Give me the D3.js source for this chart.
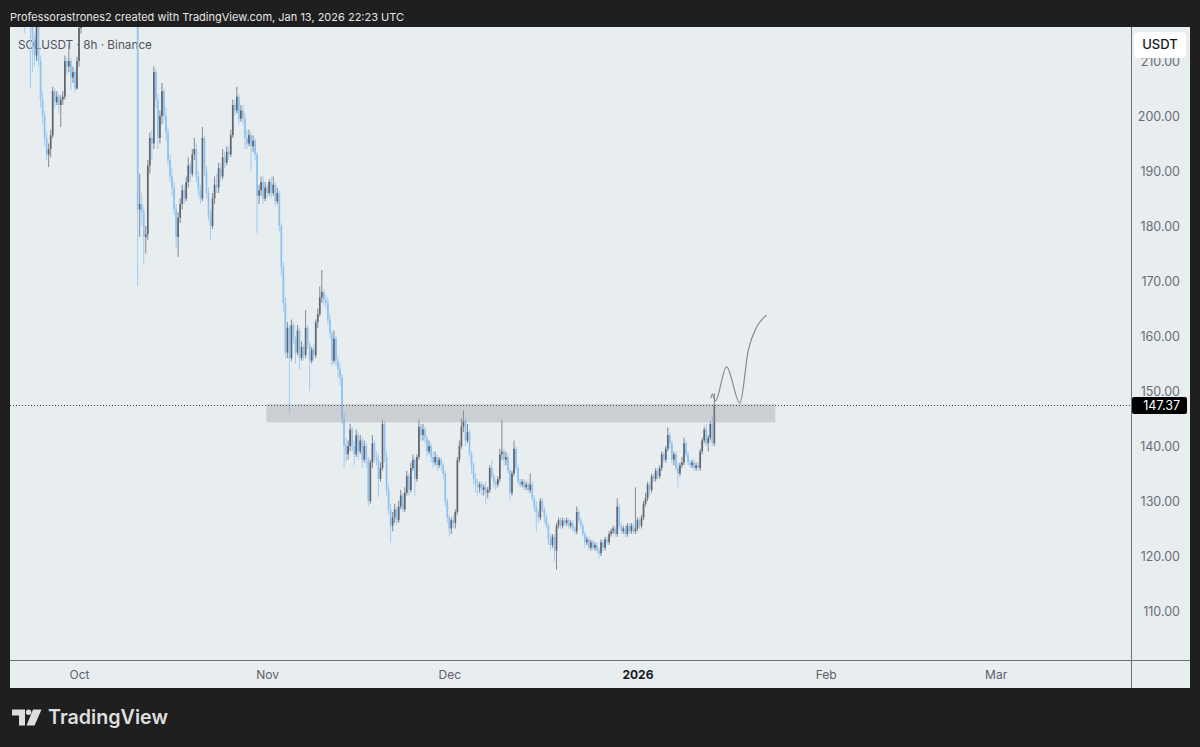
<!DOCTYPE html>
<html><head><meta charset="utf-8">
<script src="https://cdn.jsdelivr.net/npm/d3@7"></script>
<style>
html,body{margin:0;padding:0;background:#1f1f1f;}
svg{display:block;}
text{font-family:Inter,"Noto Sans",Roboto,sans-serif;}
</style></head><body>
<svg id="c" width="1200" height="747"></svg>
<script>
// ---------------- data ----------------
const headerText = "Professorastrones2 created with TradingView.com, Jan 13, 2026 22:23 UTC";
const legendText = "SOLUSDT · 8h · Binance";
const brandText = "TradingView";
const currencyText = "USDT";
const startTime = "2025-09-22T00:00:00Z"; // first 8h bar
const barHours = 8;
const firstOpen = 236;
// 8h closes, three per day, Sep 22 2025 -> Jan 13 2026
const closes = [
224,222,220, 217,214,211, 217,210,203, 200,196,193, 194,196.5,204.5, 202.5,203.5,202, 203,203.5,210, 209,210,207, 208,205,210,
216,220,222, 226,229,232, 234,230,233, 229,227,228, 231,234,232, 235,236,232, 228,223,221, 224,226,224, 222,219,221, 222,217,183,
184,182.5,178, 178.5,191,196, 195,208,203, 196,200,204.5, 200,197,192, 189,187,183, 178,181.5,184, 186.5,185,188, 191,189.5,193,
194,189,186.5, 185,196,190, 186,182,180, 185,187.5,187, 190.5,189,192.5, 191.5,193.5,193, 196.5,202,201, 203.5,199.5,201,
199.5,196,195, 196.5,194.5,195.5, 193,185.5,186.5, 188,185,187,
186,188,186, 187.5,184.5,186, 180,172.5,166, 157,161.5,156, 162,159.5,157, 161,156,158, 156.5,161.5,158.5, 155.5,157.5,156.5,
162.5,164,167, 168,166.5,166, 163,160.5,155.5, 159.5,155.5,154, 152.5,145,140, 138.5,140,143, 140,138.5,142, 139,141,137.5,
140,137.5,130, 137,140.5,138, 137.5,134,136, 144,138,132, 128.5,125.5,127, 128.5,126.5,129, 131,128.5,131.5, 134.5,132,136,
137.5,134,138, 143.5,142,143, 141.5,139,140, 138,137,138, 136.5,137.5,136.5, 135,130,127,
125,126.5,126, 128,137.5,140, 143.5,144.5,141, 142.5,138.5,136.5, 134,133,132.5, 133,132,132.5, 131.5,132,136, 134.5,133.5,133,
134,138.5,139, 137.5,138,135.5, 131.5,135,139.5, 136,133.5,133, 133.5,132.5,133, 132,133,130.5, 129,128,127, 130,128.5,127,
125.5,123,122, 123.5,121,125.5, 126.5,125.5,126.5, 126,126.5,125.5, 126,125,124.5, 128,126.5,125.5, 124,122.5,123,
121.5,122.5,121.5, 122,121,120.5, 122.5,121.5,123, 122.5,124,124.5, 125,124,129, 125.5,124.5,125, 124,125.5,124.5, 125.5,124.5,125,
126.5,125.5,127, 129.5,130.5,133, 132,134.5,134, 135.5,134.5,136, 138.5,137.5,139.5, 142,140.5,137.5, 138.5,136,135,
136.5,137,140.5, 138.5,137,136.5, 137,136,136.5, 136,139,141, 143,140.5,141.5, 144,140.5,147.37
];
const highs = [
237,226,223.5, 221,218.5,215, 218,217.5,211, 204.5,201,197, 195,197.5,205.3, 205,204.5,204, 203.8,204.5,211, 210.8,213,210.5, 209,208.5,210.8,
219,222,224, 227.5,231,233.5, 235.5,234.5,234, 233.5,230,229, 232,236,235, 236,238,237, 233,229,224, 225,227.5,227, 225,223,222.5, 223,223,218,
189.5,186,183.5, 180,192,197, 197.5,209,208.5, 204,201,206, 205,201.5,198, 193,190.5,188, 184,182.5,185, 187.5,187.5,189, 192.5,191.5,194,
196,195,190, 187.5,198,196.5, 191,187,183, 186,189,189.5, 191.5,191.5,194, 193.5,194.5,194.5, 197.5,203,203, 205.3,204,202,
202,200.5,197.5, 197.5,197,196.5, 196,193.5,187.5, 189,189,188,
187.5,188.5,189, 189,188,187, 186.5,180.5,173.5, 167,162.5,162, 163,162.5,160, 162,161.5,159, 158.5,164.7,162, 159,158,158.5,
163,165,169, 172,168.5,167.5, 167,164,161, 161,160,156.5, 155,153,146, 141.5,141,144, 143.5,141,143, 142.5,142,141.5,
141,140.5,138, 137.5,142,141, 139,138.5,137, 144.7,144.5,139, 133,129.5,128, 129.5,129,130, 132,131.5,132.5, 135.5,135,137,
138.5,138,138.5, 144.7,144,144, 143.5,142,141, 140.5,139,139, 138.5,138,138, 137,135.5,130.5,
127.5,127,127.5, 128.5,138,141, 145,146.5,145, 144,143,139, 137,135,134, 133.5,133.5,133, 133.5,132.5,136.5, 137.5,135,134,
134.5,139.5,144.7, 139.5,139,138.5, 136,135.5,141, 140,136.5,134, 134,134,133.5, 133.5,135,133.5, 131,130,128.5, 130.5,130.5,129,
127.5,126,124, 124,124,126, 127,127,127, 126.8,127,126.8, 126.5,126.5,125.5, 129,128.5,127, 126,124.5,123.5,
123.5,123,123, 122.5,122.5,121.5, 123,123,123.5, 123.5,124.5,125, 125.5,125.5,130.5, 129.5,126,125.5, 125.5,126,126, 126,126,132.5,
127,127,127.5, 130,131.5,133.5, 133.5,135,135, 136,136,136.5, 139,139,140, 143.4,142.5,141, 139,139,137,
137,138,141.5, 141,139,137.5, 137.5,137.5,137, 137,139.5,141.5, 143.5,144,142, 144.5,145.5,149.6
];
const lows = [
215,218,218.5, 205,208,209, 210,209,201.5, 198.5,194.5,192, 190.7,192.5,196, 201.5,202,200.5, 198,202,203, 207.5,208,204.7, 206,204.3,204.8,
209,215,218.5, 220,224,227, 231,228.5,229, 227.5,225,225.5, 227,230,231, 231,233.5,230.5, 226.5,221.5,219, 220,223,222.5, 220,217.5,217.5, 219.5,216.5,169,
178,180,173, 175,177.5,189.5, 192,194,201.5, 194,195,198.5, 199,195.5,191, 188,185.5,182, 176,174.4,180.5, 183,184,184.5, 187,188,189,
192,188,185.5, 184,184.5,189, 185,181,177.5, 179.5,184,186, 186,188,188.5, 190.5,191,192, 192.5,196,200, 200.5,198.5,199,
198.5,194,194, 194.5,190,193.5, 192,178.7,184, 185.5,184,184.5,
185,185.5,185, 185.5,183.5,184, 179,171,164.5, 156,156,146, 155.5,158.5,155, 156.5,153.8,155.5, 155.5,156,157.5, 150,155,155.5,
156,161.5,163.5, 166,165.5,165, 162,159.5,154.5, 155,154.5,152.5, 151,144,136, 137,137.5,139, 139,136.5,138, 137.5,138.5,136,
137,136,129, 129.5,136,137, 136.5,130.7,133.5, 135.5,137,131, 127.5,122.4,124.5, 126,125.5,126, 128.5,128,128, 131,131,131.5,
135.5,131,133.5, 137.5,141,141, 140.5,138,138.5, 137,136,136.5, 135.5,136,135.5, 134,129,126,
123.5,124,125, 125,127.5,137, 139.5,142.5,140, 140.5,138,135, 133,131.5,131, 131.5,131,131, 129.5,130.5,131.5, 134,132.5,132,
132.5,133.5,137.5, 136.5,136.5,135, 130,131,134.5, 135.5,133,132.5, 132.5,132,132, 131.5,131.5,130, 128,124.5,126, 126.5,128,126,
125,122,121, 121.5,119,117.5, 125,125,125, 125.5,125.5,125, 125,124.5,124, 124,126,125, 123.5,121.5,122,
121,121,121, 121,120.5,119.5, 120,121,121, 122,122,123.5, 124,123.5,123.5, 125,124,124, 123.5,123.5,124, 124,124,124,
124.5,125,125, 126.5,129,130, 131,131.5,133.5, 133.5,134,134, 135.5,137,137, 139,139.5,137, 136.5,135.5,132.5,
134.5,136,136.5, 138,136.5,136, 136,135.5,135.5, 135.5,135.5,138.5, 140.5,140,139, 141,140,140
];
const lastPrice = 147.37;
const priceTicks = [110,120,130,140,150,160,170,180,190,200,210];
const timeTickDates = ["2025-10-01","2025-11-01","2025-12-01","2026-01-01","2026-02-01","2026-03-01"];
const timeTickLabels = ["Oct","Nov","Dec","2026","Feb","Mar"];
// resistance zone drawing
const zoneTimes = ["2025-10-31T21:00:00Z","2026-01-23T17:00:00Z"];
const zonePrices = [147.6,144.3];
// projected path drawing
const pathTimes = ["2026-01-13T02:00:00Z","2026-01-13T08:00:00Z","2026-01-13T20:00:00Z","2026-01-15T16:00:00Z",
                   "2026-01-17T21:00:00Z","2026-01-19T06:00:00Z","2026-01-20T15:00:00Z","2026-01-22T06:30:00Z"];
const pathPrices = [148.7,149.45,148.2,154.4,147.8,157.4,161.6,163.8];

// ---------------- layout ----------------
const W = 1200, H = 747;
const plot = {l:10, t:27, r:1131, b:660};
const panel = {r:1190, b:688};
const bg = "#e8edf0";
const upBody = "#61656f", upWick = "#858892";
const downBody = "#8dc2f1", downWick = "#9fcdf4";

const svg = d3.select("#c");
const x = d3.scaleUtc()
  .domain([new Date("2025-10-01T00:00:00Z"), new Date("2026-03-01T00:00:00Z")])
  .range([79, 995.6]);
const y = d3.scaleLinear().domain([110,200]).range([611,116]);

function fitWidth(sel, w){
  const len = sel.node().getComputedTextLength();
  const fs = parseFloat(sel.attr("font-size"));
  if (len > 0) sel.attr("font-size", (fs*w/len).toFixed(2));
}

// frame
svg.append("rect").attr("width",W).attr("height",H).attr("fill","#1f1f1f");
const hdr = svg.append("text").attr("x",10).attr("y",20.5).attr("font-size",12.5)
  .attr("fill","#e6e6e6").text(headerText);
fitWidth(hdr, 394);

svg.append("rect").attr("x",plot.l).attr("y",plot.t)
  .attr("width",panel.r-plot.l).attr("height",panel.b-plot.t).attr("fill",bg);

// legend (under the bars)
const leg = svg.append("text").attr("x",18).attr("y",49).attr("font-size",13)
  .attr("fill","#50535c").text(legendText);
fitWidth(leg, 134);

svg.append("defs").append("clipPath").attr("id","pc")
  .append("rect").attr("x",plot.l).attr("y",plot.t)
  .attr("width",plot.r-plot.l).attr("height",plot.b-plot.t);
const g = svg.append("g").attr("clip-path","url(#pc)");

// bars
const t0 = new Date(startTime).getTime();
const bars = closes.map((c,i)=>({
  t: new Date(t0 + i*barHours*3600e3),
  o: i===0 ? firstOpen : closes[i-1],
  h: highs[i], l: lows[i], c
}));
const bg2 = g.append("g");
bg2.selectAll("line.w").data(bars).join("line").attr("class","w")
  .attr("x1",d=>x(d.t)).attr("x2",d=>x(d.t))
  .attr("y1",d=>y(d.h)).attr("y2",d=>y(d.l))
  .attr("stroke",d=>d.c>=d.o?upWick:downWick).attr("stroke-width",1);
bg2.selectAll("rect.b").data(bars).join("rect").attr("class","b")
  .attr("x",d=>x(d.t)-0.85).attr("width",1.7)
  .attr("y",d=>y(Math.max(d.o,d.c)))
  .attr("height",d=>Math.max(1, Math.abs(y(d.o)-y(d.c))))
  .attr("fill",d=>d.c>=d.o?upBody:downBody);

// zone
g.append("rect")
  .attr("x",x(new Date(zoneTimes[0]))).attr("width",x(new Date(zoneTimes[1]))-x(new Date(zoneTimes[0])))
  .attr("y",y(zonePrices[0])).attr("height",y(zonePrices[1])-y(zonePrices[0]))
  .attr("fill","rgba(149,152,161,0.35)");

// last price dotted line
g.append("line").attr("x1",plot.l).attr("x2",plot.r)
  .attr("y1",Math.round(y(lastPrice))+0.5).attr("y2",Math.round(y(lastPrice))+0.5)
  .attr("stroke","#4a4d55").attr("stroke-width",1).attr("stroke-dasharray","1 2");

// projected path
const pts = pathTimes.map((t,i)=>[x(new Date(t)), y(pathPrices[i])]);
g.append("path").attr("d", d3.line().curve(d3.curveMonotoneX)(pts))
  .attr("fill","none").attr("stroke","#868991").attr("stroke-width",1.2);

// separators
svg.append("line").attr("x1",plot.r+0.5).attr("x2",plot.r+0.5).attr("y1",plot.t).attr("y2",panel.b)
  .attr("stroke","#6c7077").attr("stroke-width",1);
svg.append("line").attr("x1",plot.l).attr("x2",panel.r).attr("y1",plot.b+0.5).attr("y2",plot.b+0.5)
  .attr("stroke","#6c7077").attr("stroke-width",1);

// price axis
const pa = svg.append("g").attr("transform","translate(1180,0)")
  .call(d3.axisLeft(y).tickValues(priceTicks).tickSize(0).tickPadding(0).tickFormat(d3.format(".2f")));
pa.select(".domain").remove();
pa.selectAll("text").attr("font-size",12.5).attr("fill","#6a6d75")
  .attr("font-family","Inter,'Noto Sans',Roboto,sans-serif");

// time axis
const ta = svg.append("g").attr("transform",`translate(0,${plot.b})`)
  .call(d3.axisBottom(x).tickValues(timeTickDates.map(d=>new Date(d+"T00:00:00Z")))
    .tickSize(0).tickPadding(10).tickFormat((d,i)=>timeTickLabels[i]));
ta.select(".domain").remove();
ta.selectAll("text").attr("font-size",12).attr("fill","#5d6068")
  .attr("font-family","Inter,'Noto Sans',Roboto,sans-serif")
  .filter((d,i)=>timeTickLabels[i]==="2026").attr("font-weight",700).attr("fill","#131722");

// last price label
const ly = y(lastPrice);
svg.append("rect").attr("x",plot.r+1).attr("y",ly-8.5).attr("width",55).attr("height",17)
  .attr("rx",2).attr("fill","#000");
svg.append("text").attr("x",1180).attr("y",ly+4.3).attr("text-anchor","end")
  .attr("font-size",12.5).attr("fill","#fff").text(d3.format(".2f")(lastPrice));

// currency box
svg.append("rect").attr("x",1134).attr("y",32).attr("width",52).attr("height",26)
  .attr("rx",4).attr("fill","#fff");
svg.append("text").attr("x",1160).attr("y",48.5).attr("text-anchor","middle")
  .attr("font-size",13).attr("font-weight",500).attr("fill","#131722").text(currencyText);

// brand logo
const logo = svg.append("g").attr("fill","#dedede");
logo.append("path").attr("d","M12 709.5 H25 V725.5 H19 V715.5 H12 Z");
logo.append("circle").attr("cx",28.6).attr("cy",712.2).attr("r",2.7);
logo.append("path").attr("d","M33 709.5 H41.5 L34.5 725.5 H26.5 Z");
const brand = svg.append("text").attr("x",48).attr("y",724).attr("font-size",21)
  .attr("font-weight",600).attr("fill","#dedede").text(brandText);
fitWidth(brand, 120);
</script>
</body></html>
